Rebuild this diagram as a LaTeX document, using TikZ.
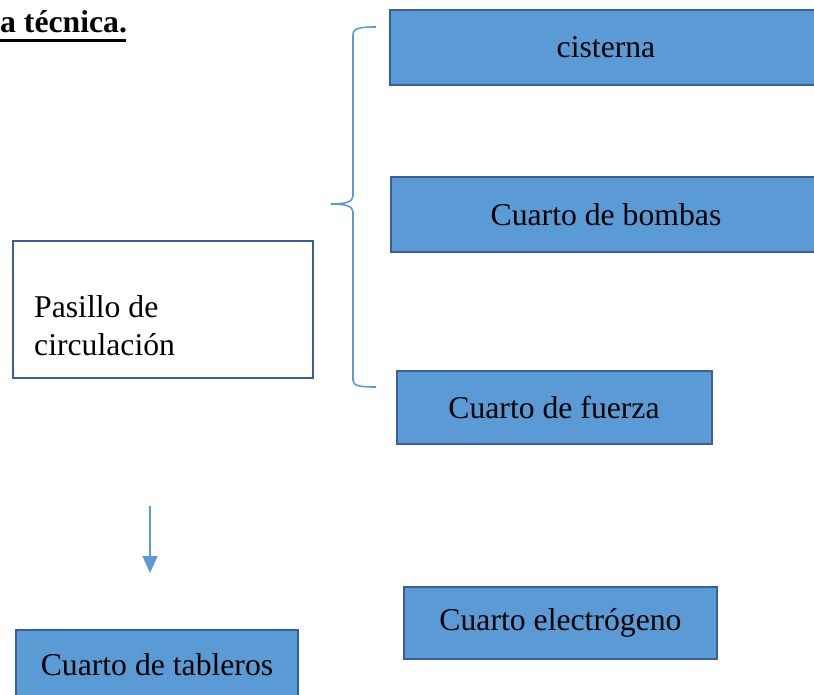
\documentclass[tikz,border=0pt]{standalone}
\usepackage{fontspec}
\setmainfont{Liberation Serif}
\usetikzlibrary{arrows.meta}
\definecolor{boxfill}{HTML}{5B9BD5}
\definecolor{boxline}{HTML}{3A5E9C}
\definecolor{bracecol}{HTML}{5B9BD5}
\begin{document}
\begin{tikzpicture}[x=1pt,y=-1pt,
  every node/.style={font=\fontsize{31.7}{38}\selectfont},
  bluebox/.style={draw=boxline,line width=2pt,fill=boxfill,inner sep=0pt},
  whitebox/.style={draw=boxline,line width=2pt,fill=white,inner sep=0pt},
  bracestyle/.style={draw=bracecol,line width=1.6pt},
  arr/.style={draw=bracecol,line width=1.5pt,-{Triangle[width=15pt,length=17pt]}}]
\useasboundingbox (0,0) rectangle (814,695);
% title
\node[inner sep=0pt,anchor=base west,font=\fontsize{31.7}{38}\selectfont\bfseries] (title) at (0,33) {a técnica.};
\draw[line width=2.5pt] (title.base west) ++(0,7.5) -- ++(126,0);
% boxes
\node[bluebox,minimum width=432pt,minimum height=75pt] (cisterna) at (606,47.5) {cisterna};
\node[bluebox,minimum width=430pt,minimum height=75pt] (bombas) at (606,214.5) {Cuarto de bombas};
\node[bluebox,minimum width=315pt,minimum height=73pt] (fuerza) at (554,407.5) {Cuarto de fuerza};
\node[bluebox,minimum width=313pt,minimum height=72pt] (electro) at (560.5,623) {Cuarto electrógeno};
\node[bluebox,minimum width=282pt,minimum height=70pt] (tableros) at (157,665) {Cuarto de tableros};
\node[whitebox,minimum width=300pt,minimum height=137pt] (pasillo) at (163,309.5) {};
\node[inner sep=0pt,anchor=base west,align=left] (pasillotxt) at (34,355) {Pasillo de\\circulación};
% brace
\draw[bracestyle] (376,27) .. controls (360,27) and (353,28) .. (353,35) -- (353,196)
  .. controls (353,202) and (345,204) .. (331,204)
  .. controls (345,204) and (353,206) .. (353,212) -- (353,380)
  .. controls (353,386) and (360,387) .. (376,387);
% arrow
\coordinate (a1) at (150,506);
\coordinate (a2) at (150,573);
\draw[arr] (a1) -- (a2);
\end{tikzpicture}
\end{document}
